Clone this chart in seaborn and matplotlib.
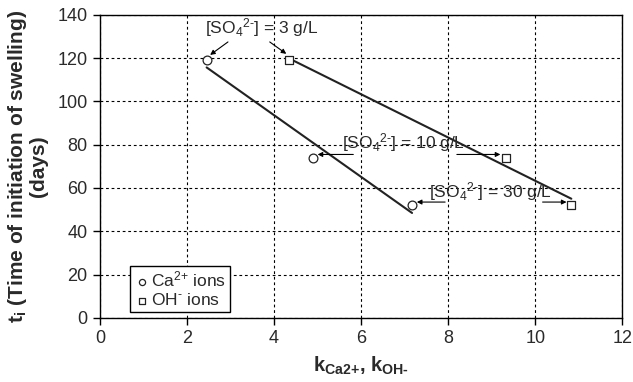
import numpy as np
import pandas as pd
import seaborn as sns
import matplotlib
matplotlib.use('Agg')
import matplotlib.pyplot as plt

# data
k_ca = [2.45, 4.9, 7.17]
k_oh = [4.34, 9.33, 10.83]
t_i = [119, 74, 52]
so4_labels = ['[SO$_4$$^{2\u2010}$] = 3 g/L',
              '[SO$_4$$^{2\u2010}$] = 10 g/L',
              '[SO$_4$$^{2\u2010}$] = 30 g/L']

df_ca = pd.DataFrame({'k': k_ca, 't': t_i})
df_oh = pd.DataFrame({'k': k_oh, 't': t_i})

sns.set_style('ticks')
plt.rcParams['font.family'] = ['Liberation Sans', 'DejaVu Sans']
plt.rcParams['mathtext.default'] = 'regular'

fig, ax = plt.subplots(figsize=(6.33, 3.82), dpi=100)
fig.subplots_adjust(left=0.158, right=0.983, bottom=0.168, top=0.961)

txt_col = '#2a2a2a'

# trend lines (least squares over each data range)
sns.regplot(data=df_ca, x='k', y='t', scatter=False, ci=None, truncate=True,
            color='#222222', line_kws={'lw': 1.5}, ax=ax)
sns.regplot(data=df_oh, x='k', y='t', scatter=False, ci=None, truncate=True,
            color='#222222', line_kws={'lw': 1.5}, ax=ax)

sns.scatterplot(data=df_ca, x='k', y='t', marker='o', s=40, facecolor='white',
                edgecolor='#222222', linewidth=0.9, label='Ca$^{2{+}}$ ions', ax=ax, zorder=5)
sns.scatterplot(data=df_oh, x='k', y='t', marker='s', s=40, facecolor='white',
                edgecolor='#222222', linewidth=0.9, label='OH$^{\u2010}$ ions', ax=ax, zorder=5)

ax.set_xlim(0, 12)
ax.set_ylim(0, 140)
ax.set_xticks(range(0, 13, 2))
ax.set_yticks(range(0, 141, 20))
ax.grid(True, color='black', linestyle=(0, (2.5, 2.5)), linewidth=0.8)
for s in ax.spines.values():
    s.set_color('black')
    s.set_linewidth(1.0)
ax.tick_params(axis='both', direction='out', length=5, width=1, labelsize=13,
               labelcolor=txt_col, color='black', pad=4)

ax.set_xlabel('k$_{Ca2{+}}$, k$_{OH\u2010}$', fontsize=14.5, fontweight='bold',
              color=txt_col, labelpad=5)
ax.set_ylabel('t$_{i}$ (Time of initiation of swelling)\n(days)', fontsize=15,
              fontweight='bold', color=txt_col, labelpad=7, linespacing=1.0)

# sulfate concentration annotations
arrow = dict(arrowstyle='-|>', color='black', lw=0.8, mutation_scale=7, shrinkA=0, shrinkB=0)
ax.text(3.72, 134, so4_labels[0], ha='center', va='center', fontsize=12.5, color=txt_col)
ax.annotate('', xy=(2.53, 121.5), xytext=(2.94, 127.5), arrowprops=arrow)
ax.annotate('', xy=(4.28, 122), xytext=(3.9, 127.5), arrowprops=arrow)

ax.text(6.97, 81, so4_labels[1], ha='center', va='center', fontsize=12.5, color=txt_col)
ax.annotate('', xy=(5.0, 75.5), xytext=(5.82, 75.5), arrowprops=arrow)
ax.annotate('', xy=(9.2, 75.5), xytext=(8.2, 75.5), arrowprops=arrow)

ax.text(8.98, 58.5, so4_labels[2], ha='center', va='center', fontsize=12.5, color=txt_col)
ax.annotate('', xy=(7.28, 53.5), xytext=(7.93, 53.5), arrowprops=arrow)
ax.annotate('', xy=(10.72, 53.5), xytext=(10.17, 53.5), arrowprops=arrow)

leg = ax.legend(loc='lower left', bbox_to_anchor=(0.057, 0.02), fontsize=12.5,
                handletextpad=0.05, handlelength=1.0, markerscale=0.7, borderpad=0.2,
                borderaxespad=0.0, fancybox=False, framealpha=1, edgecolor='black',
                labelspacing=0.15)
leg.get_frame().set_linewidth(1.0)
for t in leg.get_texts():
    t.set_color(txt_col)

plt.savefig('out.png', dpi=100)
